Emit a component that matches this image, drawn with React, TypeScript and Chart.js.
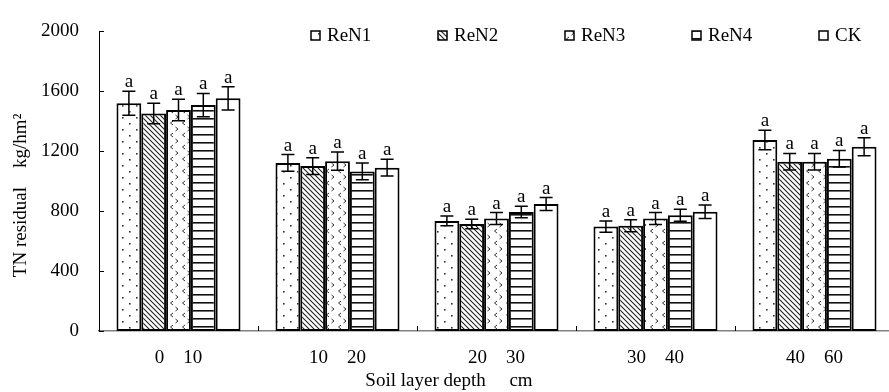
import React, { useEffect, useRef } from "react";
import { Chart, registerables } from "chart.js";

Chart.register(...registerables);

const categories = ["0    10", "10    20", "20    30", "30    40", "40    60"];
const seriesNames = ["ReN1", "ReN2", "ReN3", "ReN4", "CK"];
const reN1 = [1520, 1122, 735, 697, 1275];
const reN2 = [1452, 1101, 714, 703, 1130];
const reN3 = [1475, 1134, 751, 751, 1130];
const reN4 = [1508, 1065, 794, 772, 1150];
const ck = [1553, 1090, 848, 796, 1230];
const reN1Err = [80, 56, 32, 38, 65];
const reN2Err = [69, 56, 32, 40, 55];
const reN3Err = [72, 61, 40, 40, 55];
const reN4Err = [78, 56, 38, 40, 55];
const ckErr = [77, 56, 43, 45, 60];
const sigLetters = [
  ["a", "a", "a", "a", "a"],
  ["a", "a", "a", "a", "a"],
  ["a", "a", "a", "a", "a"],
  ["a", "a", "a", "a", "a"],
  ["a", "a", "a", "a", "a"],
];
const yTicks = [0, 400, 800, 1200, 1600, 2000];
const yTitle = "TN residual    kg/hm\u00B2";
const xTitle = "Soil layer depth     cm";

const FONT = "'Liberation Serif', 'Times New Roman', serif";

function makeTile(w: number, h: number, draw: (c: CanvasRenderingContext2D) => void) {
  const cv = document.createElement("canvas");
  cv.width = w;
  cv.height = h;
  const c = cv.getContext("2d")!;
  c.fillStyle = "#ffffff";
  c.fillRect(0, 0, w, h);
  draw(c);
  return c.createPattern(cv, "repeat")!;
}

function makePatterns() {
  const dots = makeTile(14, 12, (c) => {
    c.fillStyle = "#333";
    c.fillRect(3, 3, 1.6, 1.6);
    c.fillRect(10, 9, 1.6, 1.6);
  });
  const diag = makeTile(5, 5, (c) => {
    c.strokeStyle = "#222";
    c.lineWidth = 1.1;
    c.beginPath();
    c.moveTo(-1, -1);
    c.lineTo(6, 6);
    c.moveTo(-1, 4);
    c.lineTo(1, 6);
    c.moveTo(4, -1);
    c.lineTo(6, 1);
    c.stroke();
  });
  const chev = makeTile(12, 12, (c) => {
    c.strokeStyle = "#333";
    c.lineWidth = 1;
    c.beginPath();
    c.moveTo(5, 1);
    c.lineTo(2.5, 3);
    c.lineTo(5, 5);
    c.moveTo(7.5, 7);
    c.lineTo(10, 9);
    c.lineTo(7.5, 11);
    c.stroke();
  });
  const horiz = makeTile(8, 8, (c) => {
    c.fillStyle = "#111";
    c.fillRect(0, 6, 8, 1.6);
  });
  return [dots, diag, chev, horiz, "#ffffff"];
}

export default function App() {
  const ref = useRef<HTMLCanvasElement | null>(null);

  useEffect(() => {
    const canvas = ref.current;
    if (!canvas) return;
    const fills = makePatterns();
    const values = [reN1, reN2, reN3, reN4, ck];
    const errors = [reN1Err, reN2Err, reN3Err, reN4Err, ckErr];

    const overlay = {
      id: "overlay",
      afterDatasetsDraw(chart: any) {
        const ctx = chart.ctx;
        const ys = chart.scales.y;
        const xs = chart.scales.x;
        const area = chart.chartArea;
        ctx.save();
        chart.data.datasets.forEach((ds: any, di: number) => {
          const meta = chart.getDatasetMeta(di);
          meta.data.forEach((bar: any, i: number) => {
            const v = ds.data[i];
            const e = errors[di][i];
            const yt = ys.getPixelForValue(v + e);
            const yb = ys.getPixelForValue(v - e);
            const x = bar.x;
            ctx.strokeStyle = "#000";
            ctx.lineWidth = 1.5;
            ctx.beginPath();
            ctx.moveTo(x, yt);
            ctx.lineTo(x, yb);
            ctx.moveTo(x - 6.5, yt);
            ctx.lineTo(x + 6.5, yt);
            ctx.moveTo(x - 6.5, yb);
            ctx.lineTo(x + 6.5, yb);
            ctx.stroke();
            ctx.fillStyle = "#000";
            ctx.font = `19px ${FONT}`;
            ctx.textAlign = "center";
            ctx.textBaseline = "alphabetic";
            ctx.fillText(sigLetters[di][i], x, yt - 4);
          });
        });
        ctx.strokeStyle = "#000";
        ctx.lineWidth = 1;
        ctx.beginPath();
        yTicks.forEach((t) => {
          const y = Math.round(ys.getPixelForValue(t)) + 0.5;
          ctx.moveTo(area.left, y);
          ctx.lineTo(area.left + 5, y);
        });
        ctx.stroke();
        const step = xs.getPixelForValue(1) - xs.getPixelForValue(0);
        ctx.beginPath();
        for (let i = 0; i < categories.length - 1; i++) {
          const x = Math.round(xs.getPixelForValue(i) + step / 2) + 0.5;
          ctx.moveTo(x, area.bottom);
          ctx.lineTo(x, area.bottom - 5);
        }
        ctx.stroke();
        ctx.font = `19px ${FONT}`;
        ctx.textAlign = "left";
        ctx.textBaseline = "middle";
        seriesNames.forEach((name, i) => {
          const bx = area.left + 212 + i * 127;
          const by = 31;
          ctx.fillStyle = fills[i] as any;
          ctx.fillRect(bx, by, 9, 9);
          ctx.strokeStyle = "#000";
          ctx.lineWidth = 1.5;
          ctx.strokeRect(bx, by, 9, 9);
          ctx.fillStyle = "#000";
          ctx.fillText(name, bx + 16, 36);
        });
        ctx.textAlign = "center";
        ctx.textBaseline = "middle";
        ctx.fillText(xTitle, area.left + 350, area.bottom + 50);
        ctx.save();
        ctx.translate(area.left - 78, area.top + 164);
        ctx.rotate(-Math.PI / 2);
        ctx.fillText(yTitle, 0, 0);
        ctx.restore();
        ctx.restore();
      },
    };

    const chart = new Chart(canvas, {
      type: "bar",
      data: {
        labels: categories,
        datasets: seriesNames.map((name, i) => ({
          label: name,
          data: values[i],
          backgroundColor: fills[i] as any,
          borderColor: "#000",
          borderWidth: 2,
          borderSkipped: false,
          categoryPercentage: 0.78,
          barPercentage: 1,
        })),
      },
      options: {
        responsive: false,
        animation: false,
        layout: { padding: { left: 38, right: 6, top: 20, bottom: 21 } },
        plugins: {
          legend: { display: false },
          tooltip: { enabled: false },
          title: { display: false },
        },
        scales: {
          x: {
            grid: { display: false, drawTicks: false },
            border: { display: true, color: "#808080", width: 1.5 },
            ticks: {
              color: "#000",
              font: { family: FONT, size: 19 },
              padding: 16,
              maxRotation: 0,
              autoSkip: false,
            },
            afterFit: (s: any) => {
              s.height = 40;
            },
          },
          y: {
            min: 0,
            max: 2000,
            grid: { display: false, drawTicks: false },
            border: { display: true, color: "#000", width: 1 },
            ticks: {
              stepSize: 400,
              color: "#000",
              font: { family: FONT, size: 19 },
              padding: 20,
              callback: (v: any) => String(v),
            },
            afterFit: (s: any) => {
              s.width = 61;
            },
          },
        },
      },
      plugins: [overlay],
    });
    return () => chart.destroy();
  }, []);

  return (
    <div style={{ position: "fixed", left: 0, top: 0, width: 900, height: 392, background: "#fff" }}>
      <canvas ref={ref} width={900} height={392} style={{ width: 900, height: 392, display: "block" }} />
    </div>
  );
}
